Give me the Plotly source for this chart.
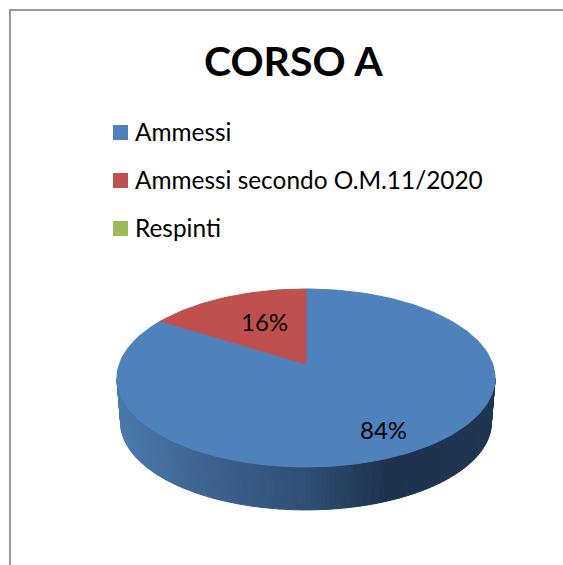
import math
import plotly.graph_objects as go

# Data
title = "CORSO A"
categories = ["Ammessi", "Ammessi secondo O.M.11/2020", "Respinti"]
values = [84, 16, 0]
colors = ["#4F81BD", "#C0504D", "#9BBB59"]
label_pos = {"Ammessi": (383, 429), "Ammessi secondo O.M.11/2020": (264, 321)}

# Pie projection (pixel-based scene)
W, H = 563, 565
CX, CY = 306, 364
B, A, K = 186.7, 86.8, 0.157
DROP, SHRINK = 45, 0.98


def rim(theta, cy=CY, scale=1.0):
    """Perspective projection of a point on the pie circle; theta clockwise from 12 o'clock."""
    d = 1 + K * math.cos(theta)
    return CX + scale * B * math.sin(theta) / d, cy - scale * A * math.cos(theta) / d


def lerp_color(x):
    stops = [(117, (74, 122, 172)), (200, (62, 100, 145)), (306, (47, 79, 116)),
             (385, (30, 50, 78)), (495, (31, 53, 82))]
    for (x0, c0), (x1, c1) in zip(stops, stops[1:]):
        if x <= x1:
            t = max(0, (x - x0) / (x1 - x0))
            return "rgb(%d,%d,%d)" % tuple(round(a + (b - a) * t) for a, b in zip(c0, c1))
    return "rgb(%d,%d,%d)" % stops[-1][1]


fig = go.Figure()

# Side wall: thin quads along the front rim, between the ellipse's widest points
N = 130
t0 = math.acos(-K)
t1 = 2 * math.pi - t0
for i in range(N):
    a0 = t0 + (t1 - t0) * i / N
    a1 = t0 + (t1 - t0) * (i + 1) / N
    p = [rim(a0), rim(a1), rim(a1, CY + DROP, SHRINK), rim(a0, CY + DROP, SHRINK)]
    xs = [q[0] for q in p] + [p[0][0]]
    ys = [q[1] for q in p] + [p[0][1]]
    c = lerp_color(sum(xs[:4]) / 4)
    fig.add_trace(go.Scatter(x=xs, y=ys, mode="lines", fill="toself", fillcolor=c,
                             line=dict(color=c, width=1), showlegend=False, hoverinfo="skip"))

# Top surface: slices go clockwise from 12 o'clock, in data order
total = sum(values)
start = 0.0
for cat, val, col in zip(categories, values, colors):
    if val == 0:
        continue
    sweep = 2 * math.pi * val / total
    steps = max(8, int(240 * val / total))
    pts = [(CX, CY)] + [rim(start + sweep * j / steps) for j in range(steps + 1)] + [(CX, CY)]
    fig.add_trace(go.Scatter(x=[q[0] for q in pts], y=[q[1] for q in pts], mode="lines",
                             fill="toself", fillcolor=col, line=dict(color=col, width=1),
                             name=cat, showlegend=False, hoverinfo="name"))
    start += sweep

# Legend keys
font = "Lato, Carlito, sans-serif"
legend_y = [132.5, 180.5, 228.5]
fig.add_trace(go.Scatter(x=[120.5] * 3, y=legend_y, mode="markers",
                         marker=dict(symbol="square", size=15, color=colors),
                         showlegend=False, hoverinfo="skip"))

annotations = [dict(x=293, y=60, text="<b>%s</b>" % title, showarrow=False,
                    xanchor="center", yanchor="middle", font=dict(family=font, size=41, color="#000"))]
for cat, y in zip(categories, legend_y):
    annotations.append(dict(x=132.5, y=y - 1, text=cat, showarrow=False, xanchor="left", yanchor="middle",
                            font=dict(family=font, size=24.4, color="#000")))
for cat, val in zip(categories, values):
    if val:
        lx, ly = label_pos[cat]
        annotations.append(dict(x=lx, y=ly, text="%d%%" % round(100 * val / total), showarrow=False,
                                xanchor="center", yanchor="middle",
                                font=dict(family=font, size=24, color="#000")))

shapes = [
    dict(type="line", x0=9, x1=W, y0=10, y1=10, line=dict(color="#9a9a9a", width=2)),
    dict(type="line", x0=10, x1=10, y0=9, y1=H, line=dict(color="#9a9a9a", width=2)),
]

fig.update_layout(
    width=W, height=H, margin=dict(l=0, r=0, t=0, b=0),
    paper_bgcolor="white", plot_bgcolor="white", showlegend=False,
    xaxis=dict(range=[0, W], visible=False, fixedrange=True),
    yaxis=dict(range=[H, 0], visible=False, fixedrange=True),
    annotations=annotations, shapes=shapes,
)
fig.write_html("out.html", config={"displayModeBar": False},
               post_script="document.body.style.margin='0';")
